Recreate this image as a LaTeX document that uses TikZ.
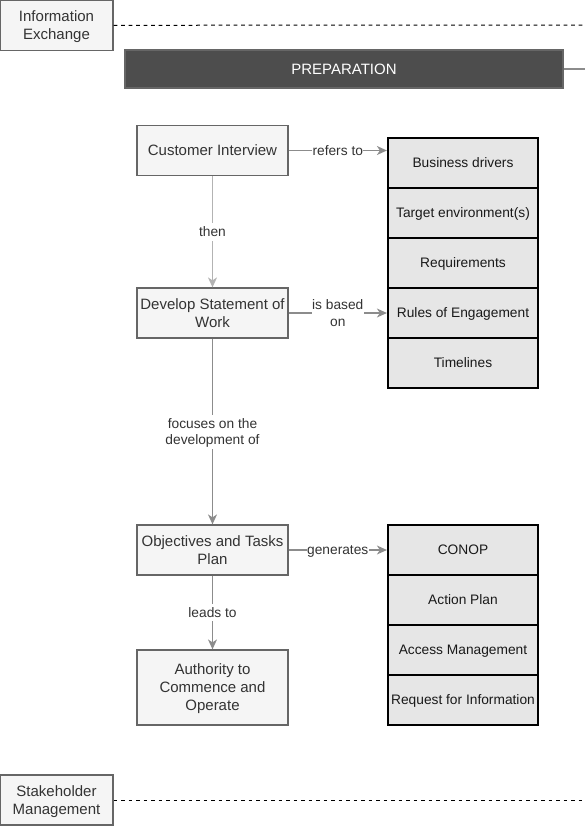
\documentclass[tikz,border=0pt]{standalone}
\usepackage{fontspec}
\setmainfont{Liberation Sans}
\usetikzlibrary{arrows.meta}
\definecolor{cbox}{HTML}{F5F5F5}
\definecolor{cboxline}{HTML}{666666}
\definecolor{ctext}{HTML}{333333}
\definecolor{ccell}{HTML}{E6E6E6}
\definecolor{cbar}{HTML}{4D4D4D}
\definecolor{carrow}{HTML}{8C8C8C}
\definecolor{carrowlight}{HTML}{B3B3B3}
\newcommand{\bsx}{\rule[-3.8pt]{0pt}{18pt}}
\newcommand{\ssx}{\rule[-3.5pt]{0pt}{16.5pt}}
\tikzset{
  leftbox/.style={draw=cboxline, line width=1.25pt, fill=cbox, text=ctext, minimum width=151pt, minimum height=50pt, inner sep=0pt, align=center, font=\fontsize{15}{18}\selectfont},
  sidebox/.style={leftbox, minimum width=113pt},
  stackcell/.style={draw=black, line width=2.2pt, fill=ccell, text=black!90, minimum width=150pt, minimum height=50pt, inner sep=0pt, align=center, font=\fontsize{13.75}{16.5}\selectfont},
  lbl/.style={fill=white, text=ctext, inner sep=0.5pt, align=center, font=\fontsize{13.75}{16.5}\selectfont},
  arr/.style={draw=carrow, line width=1.25pt, -{Stealth[length=10pt,width=9pt,inset=3pt]}},
  arrlight/.style={arr, draw=carrowlight},
  lane/.style={draw=black, line width=1pt, dash pattern=on 3.75pt off 3.75pt},
}
\begin{document}
\begin{tikzpicture}[x=1pt,y=-1pt]
\useasboundingbox (0,0) rectangle (585,836);
% lanes
\node[sidebox] (ie) at (56.5,25.3) {\bsx Information\\Exchange\bsx};
\coordinate (ieend) at (585,25);
\draw[lane] (ie.east) -- (ieend);
\node[sidebox] (sm) at (56.5,800) {\bsx Stakeholder\\Management\bsx};
\coordinate (smend) at (585,800);
\draw[lane] (sm.east) -- (smend);
% bar
\node[draw=cboxline, line width=1.25pt, fill=cbar, text=white, minimum width=438pt, minimum height=38pt, inner sep=0pt, font=\fontsize{15}{18}\selectfont] (prep) at (344,69) {\bsx PREPARATION\bsx};
\coordinate (prepend) at (585,69);
\draw[draw=carrow, line width=1.25pt] (prep.east) -- (prepend);
% left column
\node[leftbox] (ci) at (212.5,150.5) {\bsx Customer Interview\bsx};
\node[leftbox] (dsw) at (212.5,313) {\bsx Develop Statement of\\Work\bsx};
\node[leftbox] (otp) at (212.5,550) {\bsx Objectives and Tasks\\Plan\bsx};
\node[leftbox, minimum height=75pt] (atco) at (212.5,687.5) {\bsx Authority to\\Commence and\\Operate\bsx};
% stack 1
\node[stackcell] (bd) at (463,163) {\ssx Business drivers\ssx};
\node[stackcell] (te) at (463,213) {\ssx Target environment(s)\ssx};
\node[stackcell] (rq) at (463,263) {\ssx Requirements\ssx};
\node[stackcell] (roe) at (463,313) {\ssx Rules of Engagement\ssx};
\node[stackcell] (tl) at (463,363) {\ssx Timelines\ssx};
% stack 2
\node[stackcell] (conop) at (463,550) {\ssx CONOP\ssx};
\node[stackcell] (ap) at (463,600) {\ssx Action Plan\ssx};
\node[stackcell] (am) at (463,650) {\ssx Access Management\ssx};
\node[stackcell] (rfi) at (463,700) {\ssx Request for Information\ssx};
% connectors
\draw[arr] (ci.east) -- node[lbl]{\ssx refers to\ssx} (ci.east -| bd.west);
\draw[arrlight] (ci.south) -- node[lbl]{\ssx then\ssx} (dsw.north);
\draw[arr] (dsw.east) -- node[lbl]{\ssx is based\\on\ssx} (roe.west);
\draw[arr] (dsw.south) -- node[lbl]{\ssx focuses on the\\development of\ssx} (otp.north);
\draw[arr] (otp.east) -- node[lbl]{\ssx generates\ssx} (conop.west);
\draw[arr] (otp.south) -- node[lbl]{\ssx leads to\ssx} (atco.north);
\end{tikzpicture}
\end{document}
